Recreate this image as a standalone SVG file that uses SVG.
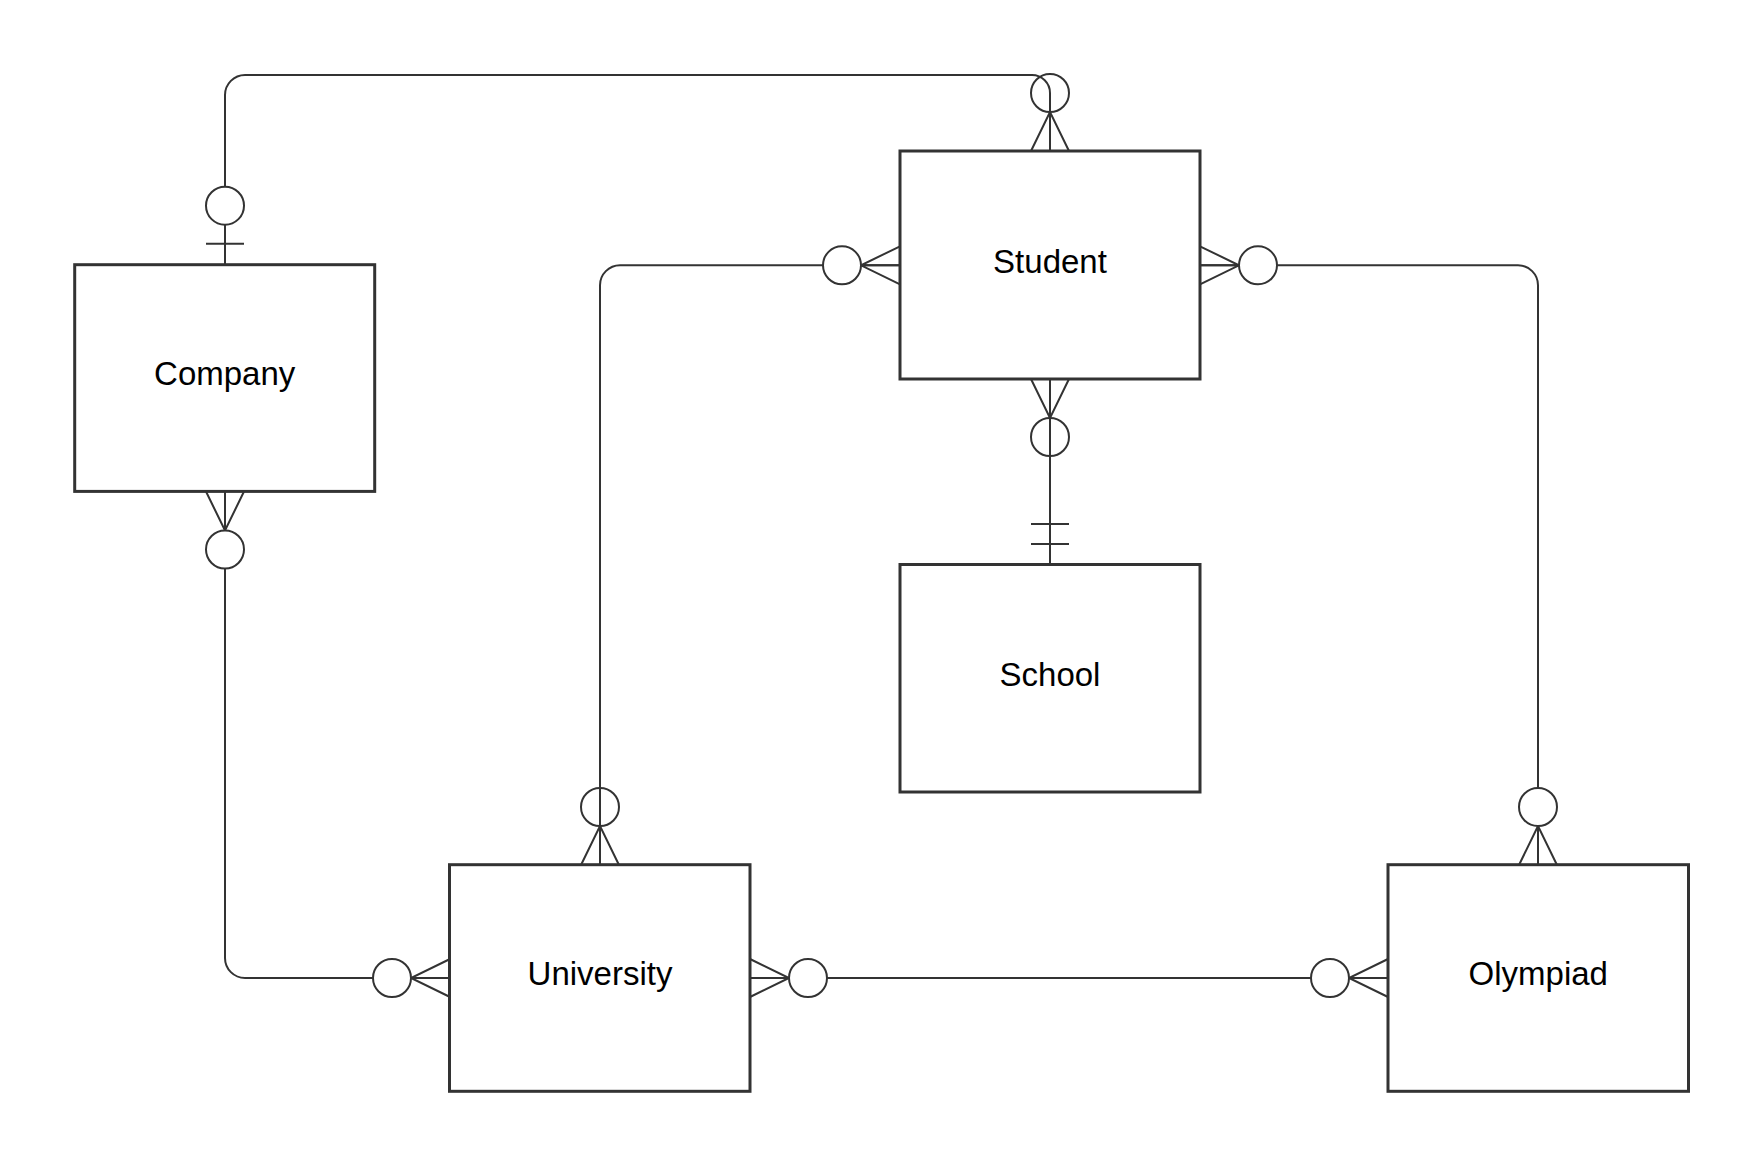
<svg xmlns="http://www.w3.org/2000/svg" xmlns:xlink="http://www.w3.org/1999/xlink" width="1763" height="1166" viewBox="0 0 1763 1166">
<style>
.box{fill:#fff;stroke:#333;stroke-width:3}
.lbl{font-family:"Liberation Sans",Arial,sans-serif;font-size:33px;fill:#000;text-anchor:middle}
.ln{fill:none;stroke:#333;stroke-width:2}
.cw{fill:#fff;stroke:#333;stroke-width:2}
.cn{fill:none;stroke:#333;stroke-width:2}
</style>
<defs>
<g id="zm">
<path class="ln" d="M0,-19 L39,0 L0,19 M0,0 H39"/>
<circle class="cw" cx="58" cy="0" r="19"/>
</g>
<g id="zmn">
<path class="ln" d="M0,-19 L39,0 L0,19 M0,0 H39"/>
<circle class="cn" cx="58" cy="0" r="19"/>
</g>
<g id="zo">
<path class="ln" d="M21,-19 V19"/>
<circle class="cw" cx="59" cy="0" r="19"/>
</g>
<g id="oo">
<path class="ln" d="M20,-19 V19 M40,-19 V19"/>
</g>
</defs>
<rect width="1763" height="1166" fill="#fff"/>
<g id="connectors">
<path class="ln" d="M225,264.7 V95 A20,20 0 0 1 245,75 H1032 A18,18 0 0 1 1050,93 V151"/>
<path class="ln" d="M900,265.3 H620 A20,20 0 0 0 600,285.3 V865"/>
<path class="ln" d="M1200,265.3 H1518 A20,20 0 0 1 1538,285.3 V865"/>
<path class="ln" d="M1050,379 V564"/>
<path class="ln" d="M225,491.5 V958 A20,20 0 0 0 245,978 H450"/>
<path class="ln" d="M750,978 H1388"/>
<use xlink:href="#zo" transform="translate(225,264.7) rotate(-90)"/>
<use xlink:href="#zmn" transform="translate(1050,151) rotate(-90)"/>
<use xlink:href="#zm" transform="translate(900,265.3) rotate(180)"/>
<use xlink:href="#zmn" transform="translate(600,865) rotate(-90)"/>
<use xlink:href="#zm" transform="translate(1200,265.3)"/>
<use xlink:href="#zm" transform="translate(1538,865) rotate(-90)"/>
<use xlink:href="#zmn" transform="translate(1050,379) rotate(90)"/>
<use xlink:href="#oo" transform="translate(1050,564) rotate(-90)"/>
<use xlink:href="#zm" transform="translate(225,491.5) rotate(90)"/>
<use xlink:href="#zm" transform="translate(450,978) rotate(180)"/>
<use xlink:href="#zm" transform="translate(750,978)"/>
<use xlink:href="#zm" transform="translate(1388,978) rotate(180)"/>
</g>
<g id="company">
<rect class="box" x="74.7" y="264.7" width="300" height="226.7"/>
<text class="lbl" x="224.7" y="385">Company</text>
</g>
<g id="student">
<rect class="box" x="900" y="151" width="300" height="228"/>
<text class="lbl" x="1050" y="272.5">Student</text>
</g>
<g id="school">
<rect class="box" x="900" y="564.5" width="300" height="227.5"/>
<text class="lbl" x="1050" y="685.7">School</text>
</g>
<g id="university">
<rect class="box" x="449.5" y="864.7" width="300.5" height="226.6"/>
<text class="lbl" x="600" y="985.3">University</text>
</g>
<g id="olympiad">
<rect class="box" x="1388" y="864.7" width="300.5" height="226.6"/>
<text class="lbl" x="1538.3" y="985.3">Olympiad</text>
</g>
</svg>
